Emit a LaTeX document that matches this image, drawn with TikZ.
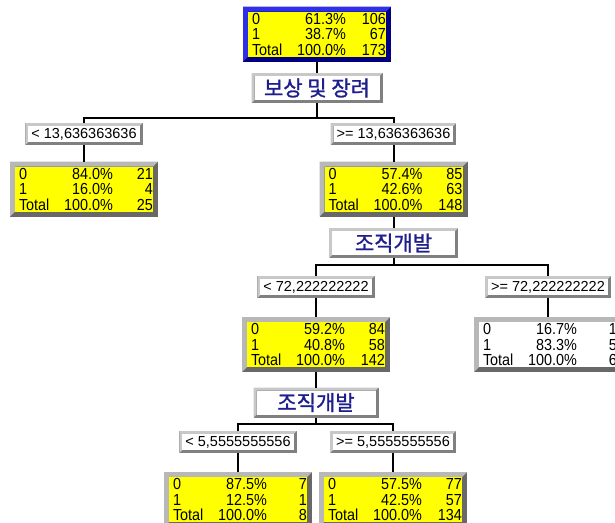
\documentclass[tikz,border=0pt]{standalone}
\usepackage{fontspec}
\usetikzlibrary{backgrounds}
\newfontfamily\statfont[FakeStretch=0.9]{Liberation Sans}
\newfontfamily\labfont{Liberation Sans}
\newfontfamily\krfont[FakeBold=1.2]{Noto Sans CJK KR}
\definecolor{bvlight}{RGB}{184,184,184}
\definecolor{bvdark}{RGB}{104,104,104}
\definecolor{rootlight}{RGB}{48,48,230}
\definecolor{rootdark}{RGB}{0,0,128}
\definecolor{lblight}{RGB}{200,200,200}
\definecolor{lbdark}{RGB}{128,128,128}
\definecolor{krnavy}{RGB}{30,30,140}
\definecolor{statyellow}{RGB}{255,255,0}

\newcommand\srow[3]{\hspace*{4pt}\makebox[94pt][l]{#1}\llap{#2}\makebox[40pt][r]{#3}}
\newcommand\stats[6]{\srow{0}{#1}{#2}\\\srow{1}{#3}{#4}\\\srow{Total}{#5}{#6}}
\newcommand\mybevel[4]{%
  \fill[#4] (#1.north west) rectangle (#1.south east);
  \fill[#3] (#1.north west) -- (#1.north east) -- ([xshift=-#2,yshift=-#2]#1.north east)
    -- ([xshift=#2,yshift=-#2]#1.north west) -- ([xshift=#2,yshift=#2]#1.south west)
    -- (#1.south west) -- cycle;}

\tikzset{
  statbox/.style={fill=statyellow, minimum width=138pt, text width=138pt, minimum height=45pt,
    inner sep=0pt, outer sep=5pt, align=left, font=\statfont\fontsize{16}{15.5}\selectfont},
  labbox/.style={fill=white, inner xsep=3pt, inner ysep=0pt, minimum height=16pt, outer sep=3pt,
    font=\labfont\fontsize{14.5}{16}\selectfont},
  krbox/.style={fill=white, inner sep=0pt, minimum height=24pt, outer sep=3pt, text=krnavy,
    font=\krfont\fontsize{21}{24}\selectfont},
  conn/.style={line width=2pt, draw=black}
}

\begin{document}
\begin{tikzpicture}[x=1pt,y=-1pt]
\path[use as bounding box] (0,0) rectangle (615,522);
\clip (0,0) rectangle (615,522);

% nodes
\node[statbox] (root) at (317,34) {\stats{61.3\%}{106}{38.7\%}{67}{100.0\%}{173}};
\node[krbox, minimum width=125pt] (lab1) at (317,88) {보상 및 장려};
\node[labbox] (labL) at (84,134) {< 13,636363636};
\node[labbox] (labR) at (393.5,134) {>= 13,636363636};
\node[statbox] (nL) at (84,189) {\stats{84.0\%}{21}{16.0\%}{4}{100.0\%}{25}};
\node[statbox] (nR) at (393.5,189) {\stats{57.4\%}{85}{42.6\%}{63}{100.0\%}{148}};
\node[krbox, minimum width=123pt] (lab2) at (393.5,243) {조직개발};
\node[labbox] (labM) at (316,287) {< 72,222222222};
\node[labbox] (labRR) at (548,287) {>= 72,222222222};
\node[statbox] (nM) at (316,344.5) {\stats{59.2\%}{84}{40.8\%}{58}{100.0\%}{142}};
\node[statbox, fill=white] (nRR) at (548,344.5) {\stats{16.7\%}{1}{83.3\%}{5}{100.0\%}{6}};
\node[krbox, minimum width=119pt] (lab3) at (316,402.5) {조직개발};
\node[labbox] (labBL) at (238,442) {< 5,5555555556};
\node[labbox] (labBR) at (393,442) {>= 5,5555555556};
\node[statbox] (nBL) at (238,499.5) {\stats{87.5\%}{7}{12.5\%}{1}{100.0\%}{8}};
\node[statbox] (nBR) at (393,499.5) {\stats{57.5\%}{77}{42.5\%}{57}{100.0\%}{134}};

% junctions
\coordinate (j1) at (317,118);
\coordinate (j2) at (393.5,265);
\coordinate (j3) at (316,424);

% connectors
\draw[conn] (root) -- (lab1);
\draw[conn] (lab1.south) -- (j1);
\draw[conn] (labL.north) |- (j1) -| (labR.north);
\draw[conn] (labL) -- (nL);
\draw[conn] (labR) -- (nR);
\draw[conn] (nR) -- (lab2);
\draw[conn] (lab2.south) -- (j2);
\draw[conn] (labM.north) |- (j2) -| (labRR.north);
\draw[conn] (labM) -- (nM);
\draw[conn] (labRR) -- (nRR);
\draw[conn] (nM) -- (lab3);
\draw[conn] (lab3.south) -- (j3);
\draw[conn] (labBL.north) |- (j3) -| (labBR.north);
\draw[conn] (labBL) -- (nBL);
\draw[conn] (labBR) -- (nBR);

% bevels
\begin{scope}[on background layer]
\mybevel{root}{5pt}{rootlight}{rootdark}
\foreach \n in {nL,nR,nM,nRR,nBL,nBR}{\mybevel{\n}{5pt}{bvlight}{bvdark}}
\foreach \n in {lab1,labL,labR,lab2,labM,labRR,lab3,labBL,labBR}{\mybevel{\n}{3pt}{lblight}{lbdark}}
\end{scope}
\end{tikzpicture}
\end{document}
